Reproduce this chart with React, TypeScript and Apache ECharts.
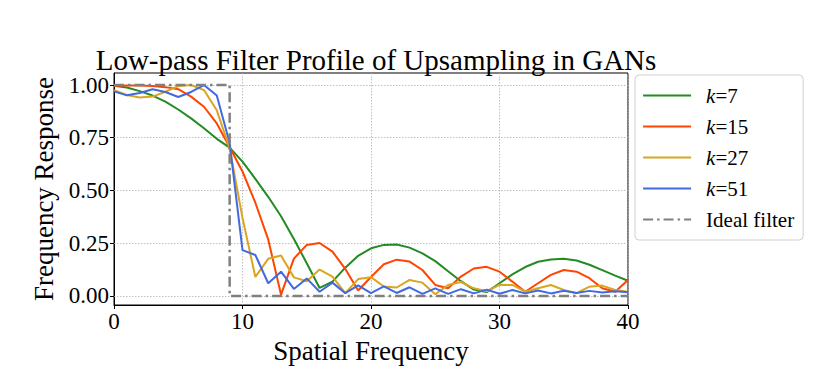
import React, { useEffect, useRef } from "react";
import * as echarts from "echarts";

const freqs = [0, 1, 2, 3, 4, 5, 6, 7, 8, 9, 10, 11, 12, 13, 14, 15, 16, 17, 18, 19, 20, 21, 22, 23, 24, 25, 26, 27, 28, 29, 30, 31, 32, 33, 34, 35, 36, 37, 38, 39, 40];

const k7 = [0.997, 0.988, 0.971, 0.95, 0.921, 0.884, 0.842, 0.795, 0.745, 0.703, 0.637, 0.555, 0.47, 0.378, 0.27, 0.155, 0.038, 0.068, 0.134, 0.19, 0.226, 0.242, 0.244, 0.229, 0.202, 0.165, 0.117, 0.07, 0.03, 0.018, 0.06, 0.102, 0.137, 0.162, 0.173, 0.176, 0.168, 0.148, 0.122, 0.096, 0.072];
const k15 = [0.995, 0.998, 0.998, 0.995, 0.99, 0.98, 0.945, 0.897, 0.818, 0.705, 0.59, 0.442, 0.268, 0.006, 0.177, 0.242, 0.251, 0.21, 0.128, 0.026, 0.09, 0.15, 0.172, 0.163, 0.123, 0.052, 0.036, 0.092, 0.13, 0.138, 0.115, 0.068, 0.02, 0.06, 0.1, 0.123, 0.115, 0.084, 0.036, 0.02, 0.076];
const k27 = [0.976, 0.953, 0.941, 0.945, 0.968, 0.995, 1.0, 0.976, 0.88, 0.7, 0.37, 0.09, 0.176, 0.192, 0.088, 0.07, 0.125, 0.092, 0.013, 0.08, 0.089, 0.045, 0.04, 0.076, 0.063, 0.008, 0.052, 0.066, 0.036, 0.022, 0.053, 0.052, 0.02, 0.036, 0.052, 0.028, 0.013, 0.044, 0.049, 0.028, 0.02];
const k51 = [0.97, 0.951, 0.962, 0.98, 0.967, 0.943, 0.967, 1.0, 0.95, 0.725, 0.217, 0.194, 0.06, 0.115, 0.033, 0.083, 0.02, 0.063, 0.013, 0.05, 0.013, 0.045, 0.014, 0.041, 0.01, 0.036, 0.01, 0.032, 0.012, 0.03, 0.01, 0.028, 0.012, 0.026, 0.012, 0.025, 0.014, 0.024, 0.016, 0.022, 0.018];

const idealX = [0, 9, 9, 40];
const idealY = [1, 1, 0, 0];

const yTicks = [0, 0.25, 0.5, 0.75, 1.0];

const seriesNames = ["k=7", "k=15", "k=27", "k=51", "Ideal filter"];
const colors = ["#228B22", "#FF4500", "#DAA520", "#4169E1", "#808080"];

const FONT = "'Liberation Serif', 'Times New Roman', serif";

export default function App() {
  const ref = useRef<HTMLDivElement>(null);
  useEffect(() => {
    if (!ref.current) return;
    const chart = echarts.init(ref.current, undefined, { renderer: "svg" });
    const curves = [k7, k15, k27, k51];
    const lineSeries: any[] = curves.map((vals, si) => ({
      name: seriesNames[si],
      type: "line",
      data: freqs.map((x, i) => [x, vals[i]]),
      symbol: "none",
      showSymbol: false,
      color: colors[si],
      lineStyle: { color: colors[si], width: 2 },
      z: 3,
    }));
    lineSeries[0].markLine = {
      silent: true,
      symbol: "none",
      label: { show: false },
      lineStyle: { type: [1.5, 1.5], color: "#b0b0b0", width: 0.8 },
      data: yTicks.map((v) => ({ yAxis: v })),
      z: 1,
    };
    lineSeries.push({
      name: seriesNames[4],
      type: "line",
      data: idealX.map((x, i) => [x, idealY[i]]),
      symbol: "none",
      showSymbol: false,
      color: colors[4],
      lineStyle: { color: colors[4], width: 2.5, type: [10, 4, 2.5, 4] },
      z: 4,
    });

    chart.setOption({
      animation: false,
      backgroundColor: "#ffffff",
      title: {
        text: "Low-pass Filter Profile of Upsampling in GANs",
        left: 371,
        top: 40,
        textAlign: "center",
        textStyle: { fontFamily: FONT, fontSize: 29, fontWeight: "normal", color: "#000" },
      },
      grid: {
        left: 114,
        top: 73,
        width: 514,
        height: 232,
        show: true,
        borderColor: "#000",
        borderWidth: 1,
        backgroundColor: "transparent",
      },
      legend: {
        orient: "vertical",
        left: 635,
        top: 75,
        data: seriesNames,
        backgroundColor: "#fff",
        borderColor: "#d0d0d0",
        borderWidth: 1,
        borderRadius: 4,
        padding: [10, 9, 10, 7],
        itemWidth: 48,
        itemHeight: 14,
        itemGap: 10,
        itemStyle: { opacity: 0 },
        lineStyle: { width: 2.2 },
        formatter: (name: string) => {
          if (name.startsWith("k=")) return `{it|k}{rm|=${name.slice(2)}}`;
          return `{rm|${name}}`;
        },
        textStyle: {
          fontFamily: FONT,
          fontSize: 21,
          color: "#000",
          lineHeight: 19,
          padding: [0, 0, 0, 10],
          rich: {
            it: { fontFamily: FONT, fontSize: 21, fontStyle: "italic", color: "#000", lineHeight: 19 },
            rm: { fontFamily: FONT, fontSize: 21, color: "#000", lineHeight: 19 },
          },
        },
      },
      xAxis: {
        type: "value",
        min: 0,
        max: 40,
        interval: 10,
        name: "Spatial Frequency",
        nameLocation: "middle",
        nameGap: 29,
        nameTextStyle: { fontFamily: FONT, fontSize: 27, color: "#000" },
        axisLine: { show: true, onZero: false, lineStyle: { color: "#000", width: 1 } },
        axisTick: { show: true, length: 4, lineStyle: { color: "#000" } },
        axisLabel: { fontFamily: FONT, fontSize: 23, color: "#000", margin: 5 },
        splitLine: { show: true, lineStyle: { type: [1.5, 1.5], color: "#b0b0b0", width: 0.8 } },
      },
      yAxis: {
        type: "value",
        min: -0.043,
        max: 1.057,
        name: "Frequency Response",
        nameLocation: "middle",
        nameGap: 54,
        nameTextStyle: { fontFamily: FONT, fontSize: 27, color: "#000" },
        axisLine: { show: true, onZero: false, lineStyle: { color: "#000", width: 1 } },
        axisTick: { show: true, length: 4, lineStyle: { color: "#000" }, customValues: yTicks },
        axisLabel: {
          fontFamily: FONT,
          fontSize: 23,
          color: "#000",
          margin: 5,
          customValues: yTicks,
          formatter: (v: number) => v.toFixed(2),
        },
        splitLine: { show: false },
      },
      series: lineSeries,
    });
    return () => chart.dispose();
  }, []);
  return <div ref={ref} style={{ position: "absolute", left: 0, top: 0, width: 823, height: 376 }} />;
}
